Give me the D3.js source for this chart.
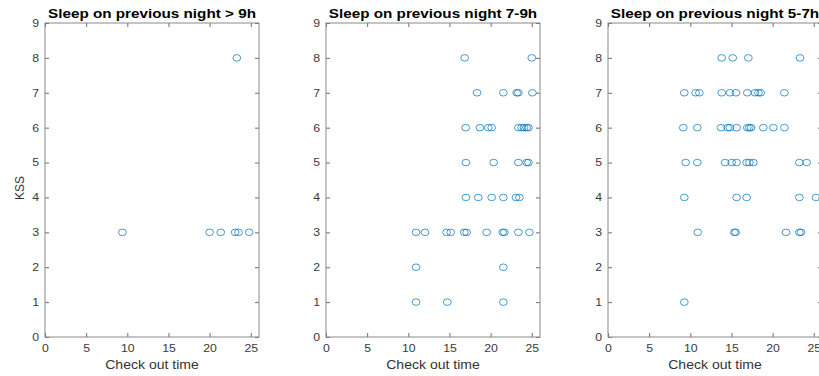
<!DOCTYPE html>
<html lang="en">
<head>
    <meta charset="UTF-8">
    <title>KSS vs check out time</title>
    <script src="https://cdn.jsdelivr.net/npm/d3@7"></script>
    <style>
        body { margin: 0; background: #fff; }
        .tick text { font-family: "Liberation Sans", Arial, sans-serif; font-size: 10.5px; fill: #3a3a3a; }
        .tick line { stroke: #6e6e6e; }
        .title { font-family: "Liberation Sans", Arial, sans-serif; font-size: 12.5px; font-weight: bold; fill: #000; }
        .label { font-family: "Liberation Sans", Arial, sans-serif; font-size: 12px; fill: #333; }
    </style>
</head>
<body>
<div id="chart"></div>
<script>

    /* chart data: [check out time, KSS] */
    var panelTitles = ["Sleep on previous night > 9h", "Sleep on previous night 7-9h", "Sleep on previous night 5-7h"];
    var xTicks = [0, 5, 10, 15, 20, 25];
    var yTicks = [0, 1, 2, 3, 4, 5, 6, 7, 8, 9];

    var sleepOver9 = [
        [23.3, 8],
        [9.4, 3], [20.0, 3], [21.35, 3], [23.1, 3], [23.5, 3], [24.8, 3]
    ];

    var sleep7to9 = [
        [16.85, 8], [25.0, 8],
        [18.35, 7], [21.55, 7], [23.17, 7], [23.37, 7], [25.07, 7],
        [16.97, 6], [18.7, 6], [19.72, 6], [20.13, 6], [23.37, 6], [23.77, 6], [24.06, 6], [24.38, 6], [24.6, 6],
        [17.0, 5], [20.37, 5], [23.37, 5], [24.38, 5], [24.6, 5],
        [17.0, 4], [18.5, 4], [20.13, 4], [21.55, 4], [23.08, 4], [23.5, 4],
        [10.94, 3], [12.03, 3], [14.66, 3], [15.15, 3], [16.8, 3], [17.09, 3], [19.52, 3], [21.47, 3], [21.67, 3], [23.37, 3], [24.71, 3],
        [10.94, 2], [21.55, 2],
        [10.94, 1], [14.74, 1], [21.55, 1]
    ];

    var sleep5to7 = [
        [13.81, 8], [15.15, 8], [17.05, 8], [23.33, 8],
        [9.27, 7], [10.65, 7], [11.1, 7], [13.81, 7], [14.82, 7], [15.55, 7], [16.93, 7], [17.86, 7], [18.27, 7], [18.55, 7], [21.43, 7],
        [9.15, 6], [10.85, 6], [13.73, 6], [14.54, 6], [14.82, 6], [15.63, 6], [16.93, 6], [17.17, 6], [17.38, 6], [18.87, 6], [20.09, 6], [21.43, 6],
        [9.44, 5], [10.85, 5], [14.22, 5], [15.03, 5], [15.63, 5], [16.85, 5], [17.17, 5], [17.66, 5], [23.25, 5], [24.14, 5],
        [9.27, 4], [15.63, 4], [16.85, 4], [23.25, 4], [25.27, 4],
        [10.9, 3], [15.35, 3], [15.51, 3], [21.63, 3], [23.25, 3], [23.45, 3],
        [9.27, 1]
    ];

    var panelData = [sleepOver9, sleep7to9, sleep5to7];

    /* layout */
    var svgWidth = 819, svgHeight = 376;
    var panelLeft = [45, 326, 608];
    var panelTop = 23, panelW = 214, panelH = 314;
    /* the source picture is a bit wider than tall, text looks stretched */
    var stretch = "scale(1.17,1)";
    var titleStretch = "scale(1.22,1)";

    var svg = d3.select("#chart").append("svg")
        .attr("width", svgWidth)
        .attr("height", svgHeight);

    var x = d3.scaleLinear().domain([0, 26]).range([0, panelW]);
    var y = d3.scaleLinear().domain([0, 9]).range([panelH, 0]);

    panelData.forEach(function(data, i) {

        var g = svg.append("g")
            .attr("transform", "translate(" + panelLeft[i] + "," + panelTop + ")");

        /* bottom / left axes with labels, ticks pointing inward */
        var xAxis = g.append("g")
            .attr("transform", "translate(0," + panelH + ")")
            .call(d3.axisBottom(x).tickValues(xTicks).tickSizeInner(-4).tickSizeOuter(0).tickPadding(8));
        xAxis.select(".domain").remove();
        xAxis.selectAll("text").attr("transform", stretch);

        var yAxis = g.append("g")
            .call(d3.axisLeft(y).tickValues(yTicks).tickSizeInner(-4).tickSizeOuter(0).tickPadding(5));
        yAxis.select(".domain").remove();
        yAxis.selectAll("text").attr("transform", stretch);

        /* top / right axes, ticks only */
        g.append("g")
            .call(d3.axisTop(x).tickValues(xTicks).tickSizeInner(-4).tickSizeOuter(0).tickFormat(""))
            .select(".domain").remove();

        g.append("g")
            .attr("transform", "translate(" + panelW + ",0)")
            .call(d3.axisRight(y).tickValues(yTicks).tickSizeInner(-4).tickSizeOuter(0).tickFormat(""))
            .select(".domain").remove();

        /* axes box */
        g.append("rect")
            .attr("width", panelW)
            .attr("height", panelH)
            .attr("fill", "none")
            .attr("stroke", "#8a8a8a")
            .attr("stroke-width", 1);

        g.selectAll("ellipse")
            .data(data)
            .enter().append("ellipse")
            .attr("cx", function(d) { return x(d[0]); })
            .attr("cy", function(d) { return y(d[1]); })
            .attr("rx", 3.9)
            .attr("ry", 3.3)
            .attr("fill", "none")
            .attr("stroke", "#0072BD")
            .attr("stroke-opacity", 0.8)
            .attr("stroke-width", 0.9);

        g.append("text")
            .attr("class", "title")
            .attr("transform", "translate(" + (panelW / 2) + ",-5) " + titleStretch)
            .attr("text-anchor", "middle")
            .text(panelTitles[i]);

        g.append("text")
            .attr("class", "label")
            .attr("transform", "translate(" + (panelW / 2) + "," + (panelH + 32) + ") " + stretch)
            .attr("text-anchor", "middle")
            .text("Check out time");

        if (i == 0) {
            g.append("text")
                .attr("class", "label")
                .attr("transform", "translate(-21," + (panelH / 2 + 8) + ") rotate(-90)")
                .attr("text-anchor", "middle")
                .text("KSS");
        }
    });

</script>
</body>
</html>
